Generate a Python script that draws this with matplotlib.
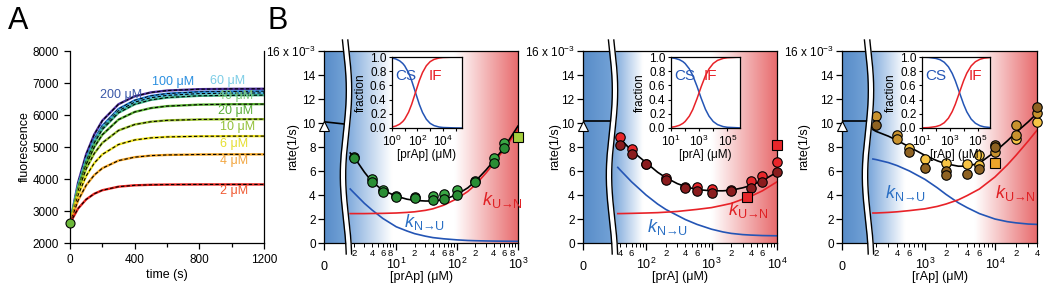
import numpy as np
import matplotlib.pyplot as plt
from matplotlib.ticker import FixedLocator, FuncFormatter, NullLocator

plt.rcParams['font.family'] = ['Liberation Sans', 'DejaVu Sans']
plt.rcParams['mathtext.fontset'] = 'custom'
plt.rcParams['mathtext.rm'] = 'Liberation Sans'
plt.rcParams['mathtext.it'] = 'Liberation Sans:italic'
plt.rcParams['axes.linewidth'] = 0.9

# ---------------- dados do painel A (fluorescencia x tempo) ----------------
t_A = [0, 50, 100, 150, 200, 300, 400, 500, 600, 800, 1000, 1200]
f_200 = [2620, 3888, 4775, 5392, 5825, 6337, 6584, 6705, 6764, 6807, 6817, 6820]
f_100 = [2620, 3794, 4631, 5232, 5661, 6188, 6456, 6595, 6666, 6721, 6735, 6739]
f_60 = [2620, 3764, 4586, 5176, 5603, 6128, 6401, 6540, 6612, 6669, 6684, 6689]
f_40 = [2620, 3744, 4552, 5132, 5552, 6068, 6334, 6472, 6544, 6600, 6614, 6619]
f_20 = [2620, 3691, 4454, 4997, 5384, 5856, 6095, 6216, 6277, 6324, 6336, 6339]
f_10 = [2620, 3624, 4320, 4798, 5129, 5517, 5702, 5790, 5832, 5861, 5868, 5870]
f_6 = [2620, 3499, 4094, 4497, 4769, 5078, 5220, 5285, 5315, 5335, 5339, 5340]
f_4 = [2620, 3329, 3805, 4123, 4336, 4575, 4682, 4731, 4752, 4766, 4770, 4770]
f_2 = [2620, 3077, 3362, 3539, 3649, 3760, 3803, 3819, 3826, 3830, 3830, 3830]
conc_A = ['200', '100', '60', '40', '20', '10', '6', '4', '2']
cores_linha = ['#4b2d9b', '#1f78d1', '#4fb8e0', '#3fb58a', '#58b030',
               '#9cc32a', '#efe31f', '#f5a623', '#e8231e']
cores_rotulo = ['#3a58a8', '#2a8fe0', '#7ccde6', '#7fc87a', '#5aae3a',
                '#94c13a', '#e6df30', '#f2a640', '#f05a32']
rotulo_t = [186, 507, 866, 915, 915, 928, 928, 928, 928]
rotulo_f = [6616, 7022, 7053, 6584, 6116, 5616, 5084, 4553, 3616]

# ---------------- painel B1: prAp ----------------
x_prap = [2, 4, 6, 10, 20, 40, 60, 100, 200, 400, 600]
k_prap_a = [7.2, 5.3, 4.4, 3.9, 3.8, 3.95, 4.05, 4.4, 5.2, 7.1, 8.35]
k_prap_b = [7.1, 5.1, 4.25, 3.85, 3.75, 3.6, 3.7, 4.0, 5.05, 6.65, 7.9]
xq_prap, kq_prap = [1000], [8.8]
xfit_prap = [1.75, 2, 3, 4, 6, 10, 15, 20, 30, 40, 60, 100, 150, 200, 300, 400, 600, 1000]
fit_prap = [7.5, 7.2, 5.9, 5.1, 4.4, 3.9, 3.65, 3.55, 3.5, 3.5, 3.6, 4.05, 4.6, 5.15, 6.1, 6.85, 8.0, 9.75]
kun_prap = [2.45, 2.45, 2.45, 2.46, 2.47, 2.5, 2.55, 2.6, 2.72, 2.85, 3.15, 3.7, 4.3, 4.85, 5.85, 6.65, 7.85, 9.5]
knu_prap = [4.5, 4.2, 3.3, 2.75, 2.05, 1.35, 1.0, 0.78, 0.57, 0.45, 0.35, 0.26, 0.21, 0.19, 0.17, 0.16, 0.15, 0.14]
zero_prap = [10.1, 9.9]

# ---------------- painel B2: prA ----------------
x_pra = [40, 60, 100, 200, 400, 600, 1000, 2000, 4000, 6000, 10000]
k_pra_a = [8.8, 7.8, 6.6, 5.4, 4.7, 4.65, 4.5, 4.45, 5.15, 5.6, 6.75]
k_pra_b = [8.15, 7.45, 6.55, 5.25, 4.6, 4.35, 4.2, 4.3, 4.6, 5.05, 5.9]
xq_pra, kq_pra = [3500, 10000], [3.85, 8.15]
xfit_pra = [37, 40, 60, 100, 150, 200, 300, 400, 600, 1000, 1500, 2000, 3000, 4000, 6000, 10000]
fit_pra = [8.95, 8.7, 7.7, 6.7, 5.9, 5.45, 4.95, 4.7, 4.45, 4.35, 4.35, 4.4, 4.6, 4.8, 5.2, 5.9]
kun_pra = [2.45, 2.45, 2.47, 2.5, 2.53, 2.57, 2.63, 2.7, 2.8, 2.95, 3.15, 3.3, 3.65, 3.9, 4.35, 5.1]
knu_pra = [6.3, 6.1, 5.1, 4.0, 3.25, 2.8, 2.3, 1.95, 1.55, 1.15, 0.92, 0.8, 0.7, 0.66, 0.62, 0.6]
zero_pra = [10.2, 10.2]

# ---------------- painel B3: rAp ----------------
x_rap_a = [600, 1000, 2000, 4000, 6000, 6000, 20000, 40000]
k_rap_a = [7.9, 7.0, 6.7, 6.6, 7.35, 6.5, 8.7, 10.1]
x_rap_b = [200, 400, 400, 10000, 20000, 20000, 40000]
k_rap_b = [10.6, 9.0, 8.7, 7.6, 9.8, 9.0, 10.8]
x_rap_c = [200, 600, 1000, 2000, 2000, 4000, 6000, 10000, 10000, 40000]
k_rap_c = [9.8, 7.6, 6.25, 6.0, 5.7, 5.75, 6.2, 8.2, 8.0, 11.3]
xq_rap, kq_rap = [10000], [6.65]
xfit_rap = [180, 200, 300, 400, 600, 1000, 1500, 2000, 3000, 4000, 6000, 10000, 15000, 20000, 30000, 40000]
fit_rap = [9.45, 9.3, 8.9, 8.55, 8.0, 7.3, 6.85, 6.6, 6.4, 6.4, 6.65, 7.6, 8.5, 9.2, 10.1, 10.8]
kun_rap = [2.5, 2.5, 2.55, 2.6, 2.7, 2.85, 3.05, 3.25, 3.6, 3.95, 4.5, 5.5, 6.5, 7.3, 8.5, 9.4]
knu_rap = [7.0, 6.95, 6.7, 6.45, 6.0, 5.3, 4.6, 4.05, 3.35, 2.95, 2.45, 2.0, 1.78, 1.68, 1.58, 1.55]
zero_rap = [10.2, 10.2]
tri_y = 9.75

# ---------------- insets (fracao CS / IF) ----------------
xin_prap = [1, 2, 4, 7, 10, 20, 35, 70, 140, 250, 500, 1000, 2000, 5000, 1e4, 1e5, 3e5]
if_prap = [.014, .028, .054, .091, .125, .222, .333, .5, .667, .781, .877, .935, .966, .986, .993, .999, 1.0]
cs_prap = [.986, .972, .946, .909, .875, .778, .667, .5, .333, .219, .123, .065, .034, .014, .007, .001, 0.0]
xin_pra = [10, 20, 40, 70, 100, 200, 350, 700, 1000, 1400, 2800, 5000, 1e4, 2e4, 5e4, 1e5, 1e6]
if_pra = [.01, .02, .038, .065, .091, .167, .259, .412, .5, .583, .737, .833, .909, .952, .98, .99, .999]
cs_pra = [.99, .98, .962, .935, .909, .833, .741, .588, .5, .417, .263, .167, .091, .048, .02, .01, .001]
xin_rap = [10, 30, 100, 200, 400, 800, 1500, 2500, 5000, 1e4, 1.7e4, 3.5e4, 7e4, 1.5e5, 3e5, 1e6]
if_rap = [.002, .006, .02, .038, .074, .138, .231, .333, .5, .667, .773, .875, .933, .968, .984, .995]
cs_rap = [.998, .994, .98, .962, .926, .862, .769, .667, .5, .333, .227, .125, .067, .032, .016, .005]

W, H = 1050, 291
fig = plt.figure(figsize=(W / 100, H / 100), dpi=100)


def caixa(l, t, r, b):
    # retangulo em pixels -> fracao da figura
    return [l / W, 1 - b / H, (r - l) / W, (b - t) / H]


# ================= PAINEL A =================
axA = fig.add_axes(caixa(70, 51, 264, 243))
for f, c in zip([f_200, f_100, f_60, f_40, f_20, f_10, f_6, f_4, f_2], cores_linha):
    axA.plot(t_A, f, color=c, lw=1.7)
    axA.plot(t_A, f, color='black', lw=0.8, dashes=(3, 2))
axA.plot([0], [2620], 'o', mfc='#6cb83a', mec='black', ms=6.5, mew=0.8,
         clip_on=False, zorder=5)
for c, tx, fy, cor in zip(conc_A, rotulo_t, rotulo_f, cores_rotulo):
    axA.text(tx, fy, c + ' μM', color=cor, fontsize=9, ha='left', va='center')
axA.set_xlim(0, 1200)
axA.set_ylim(2000, 8000)
axA.set_xticks([0, 400, 800, 1200])
axA.set_xticks([200, 600, 1000], minor=True)
axA.set_yticks(range(2000, 8001, 1000))
axA.spines['top'].set_visible(False)
axA.tick_params(which='both', direction='out', labelsize=8.5, width=0.9)
axA.tick_params(which='major', length=4, pad=4)
axA.tick_params(which='minor', length=3)
axA.set_xlabel('time (s)', fontsize=9)
axA.set_ylabel('fluorescence', fontsize=9)
axA.xaxis.set_label_coords(167 / W, 1 - 269 / H, transform=fig.transFigure)
axA.yaxis.set_label_coords(31 / W, 1 - 147 / H, transform=fig.transFigure)
fig.text(8 / W, 1 - 21 / H, 'A', fontsize=22, va='center', ha='left')
fig.text(268 / W, 1 - 21 / H, 'B', fontsize=22, va='center', ha='left')


# ================= PAINEIS B =================
def fundo(l, brk, r, branco, vermelho):
    px = np.linspace(l, r, 500)
    pos = [l, brk - 3, brk + 4, branco, vermelho, r]
    cores = np.array([[88, 140, 200], [112, 160, 213], [135, 175, 222],
                      [255, 255, 255], [255, 255, 255], [232, 108, 110]]) / 255
    img = np.stack([np.interp(px, pos, cores[:, k]) for k in range(3)], axis=-1)
    bg = fig.add_axes(caixa(l, 51, r, 243))
    bg.imshow(img[None, :, :], aspect='auto', extent=[0, 1, 0, 1])
    bg.axis('off')


def rotulo_menor(mostrar):
    def fmt(v, pos):
        m = int(round(v / 10 ** np.floor(np.log10(v) + 1e-9)))
        return str(m) if m in mostrar else ''
    return fmt


def painel_taxa(l, brk, r, xlim, branco, vermelho, zero_fit, xfit, fit, kun, knu,
                pontos, quadrados, nome, mostrar, rot_ylabel, pos_kun, pos_knu):
    fundo(l, brk, r, branco, vermelho)

    # trecho linear com o zero
    ax0 = fig.add_axes(caixa(l, 51, brk, 243), facecolor='none')
    ax0.set_xlim(0, 1)
    ax0.set_ylim(0, 16)
    ax0.spines['right'].set_visible(False)
    ax0.plot([0, 1], zero_fit, color='black', lw=1.2)
    ax0.plot([0], [tri_y], marker='^', mfc='white', mec='black', ms=7.5, mew=0.8,
             clip_on=False, zorder=5)
    ax0.set_xticks([0])
    ax0.set_xticklabels(['0'])
    ax0.set_yticks(range(0, 17, 2))
    ax0.set_yticklabels([str(v) for v in range(0, 15, 2)] + ['16 x 10$^{-3}$'])
    ax0.tick_params(axis='x', length=5, width=0.9, pad=8, labelsize=9)
    ax0.tick_params(axis='y', length=4, width=0.9, pad=2, labelsize=8.5)
    ax0.set_ylabel('rate(1/s)', fontsize=9)
    ax0.yaxis.set_label_coords(rot_ylabel / W, 1 - 147 / H, transform=fig.transFigure)

    # trecho logaritmico
    ax = fig.add_axes(caixa(brk, 51, r, 243), facecolor='none')
    ax.set_xscale('log')
    ax.set_xlim(*xlim)
    ax.set_ylim(0, 16)
    ax.spines['left'].set_visible(False)
    ax.tick_params(axis='y', left=False, labelleft=False)
    dec = [10.0 ** k for k in range(-1, 7) if xlim[0] <= 10.0 ** k <= xlim[1] * 1.001]
    ax.xaxis.set_major_locator(FixedLocator(dec))
    ax.xaxis.set_major_formatter(FuncFormatter(
        lambda v, p: r'$10^{%d}$' % round(np.log10(v))))
    menores = [m * 10.0 ** k for k in range(-1, 6) for m in range(2, 10)
               if xlim[0] <= m * 10.0 ** k <= xlim[1] * 1.001]
    ax.xaxis.set_minor_locator(FixedLocator(menores))
    ax.xaxis.set_minor_formatter(FuncFormatter(rotulo_menor(mostrar)))
    ax.tick_params(axis='x', which='major', length=5, width=0.9, pad=5, labelsize=9)
    ax.tick_params(axis='x', which='minor', length=3, width=0.7, pad=1.5, labelsize=6.8)
    ax.set_xlabel(nome + ' (μM)', fontsize=9)
    ax.xaxis.set_label_coords((l + r) / 2 / W, 1 - 271 / H, transform=fig.transFigure)

    ax.plot(xfit, knu, color='#2455b5', lw=1.2)
    ax.plot(xfit, kun, color='#e82228', lw=1.2)
    ax.plot(xfit, fit, color='black', lw=1.2)
    for xs, ys, cor in pontos:
        ax.plot(xs, ys, 'o', mfc=cor, mec='black', ms=6.8, mew=0.8,
                clip_on=False, zorder=4)
    xq, yq, corq = quadrados
    ax.plot(xq, yq, 's', mfc=corq, mec='black', ms=6.5, mew=0.8,
            clip_on=False, zorder=4)
    ax.text(pos_kun[0], pos_kun[1], r'$k_{\mathrm{U→N}}$', color='#e02024',
            fontsize=13, ha='left', va='center')
    ax.text(pos_knu[0], pos_knu[1], r'$k_{\mathrm{N→U}}$', color='#2a6fc4',
            fontsize=13, ha='left', va='center')
    return ax


def inset(l, r, xlim, xin, cs, iff, nome, rot_dec, pos_cs, pos_if):
    ai = fig.add_axes(caixa(l, 57, r, 128))
    ai.set_facecolor('white')
    ai.set_xscale('log')
    ai.set_xlim(*xlim)
    ai.set_ylim(0, 1)
    ai.plot(xin, cs, color='#2455b5', lw=1.1)
    ai.plot(xin, iff, color='#e82228', lw=1.1)
    dec = [10.0 ** k for k in range(0, 7) if xlim[0] <= 10.0 ** k <= xlim[1]]
    ai.xaxis.set_major_locator(FixedLocator(dec))
    ai.xaxis.set_major_formatter(FuncFormatter(
        lambda v, p: r'$10^{%d}$' % round(np.log10(v)) if round(np.log10(v)) in rot_dec else ''))
    ai.xaxis.set_minor_locator(NullLocator())
    ai.set_yticks([0, 0.2, 0.4, 0.6, 0.8, 1.0])
    ai.set_yticklabels(['0.0', '0.2', '0.4', '0.6', '0.8', '1.0'])
    ai.tick_params(length=2.5, width=0.8, pad=1.5, labelsize=8.5)
    ai.set_ylabel('fraction', fontsize=8.5, labelpad=2)
    ai.set_xlabel(nome + ' (μM)', fontsize=8.5, labelpad=0.5)
    ai.text(pos_cs, 0.73, 'CS', color='#2455b5', fontsize=11, transform=ai.transAxes,
            ha='left', va='center')
    ai.text(pos_if, 0.73, 'IF', color='#e82228', fontsize=11, transform=ai.transAxes,
            ha='left', va='center')


painel_taxa(324, 346, 518, (10 ** 0.174, 1000), 392, 455, zero_prap,
            xfit_prap, fit_prap, kun_prap, knu_prap,
            [(x_prap, k_prap_a, '#3aa845'), (x_prap, k_prap_b, '#2a8e35')],
            (xq_prap, kq_prap, '#a6cf3e'), '[prAp]', [2, 4, 6, 8], 299,
            (254, 3.6), (13.5, 1.77))
inset(392, 462, (1, 10 ** 5.5), xin_prap, cs_prap, if_prap, '[prAp]', [0, 2, 4], 0.05, 0.52)

painel_taxa(583, 612, 777, (10 ** 1.48, 10000), 643, 712, zero_pra,
            xfit_pra, fit_pra, kun_pra, knu_pra,
            [(x_pra, k_pra_a, '#e8262a'), (x_pra, k_pra_b, '#8a1c1e')],
            (xq_pra, kq_pra, '#e8262a'), '[prA]', [2, 4, 6], 561,
            (1780, 2.77), (102, 1.35))
inset(671, 740, (10, 10 ** 5.9), xin_pra, cs_pra, if_pra, '[prA]', [1, 3, 5], 0.04, 0.47)

painel_taxa(842, 868, 1037, (10 ** 2.185, 40000), 905, 975, zero_rap,
            xfit_rap, fit_rap, kun_rap, knu_rap,
            [(x_rap_a, k_rap_a, '#f6c445'), (x_rap_b, k_rap_b, '#c8922e'),
             (x_rap_c, k_rap_c, '#8e6222')],
            (xq_rap, kq_rap, '#eea52a'), '[rAp]', [2, 4, 6], 810,
            (10000, 4.2), (267, 4.2))
inset(922, 990, (10, 10 ** 5.9), xin_rap, cs_rap, if_rap, '[rAp]', [1, 3, 5], 0.05, 0.68)

# quebra do eixo (linha dupla ondulada)
ov = fig.add_axes([0, 0, 1, 1], facecolor='none')
ov.set_xlim(0, W)
ov.set_ylim(H, 0)
ov.axis('off')
for brk in [346, 612, 868]:
    yy = np.linspace(40, 254, 150)
    xx = brk + 3.0 * np.sin(2 * np.pi * (yy - 48) / 170)
    ov.fill_betweenx(yy, xx - 2.7, xx + 2.7, color='white', lw=0)
    ov.plot(xx - 2.7, yy, color='black', lw=1.0)
    ov.plot(xx + 2.7, yy, color='black', lw=1.0)

fig.savefig('out.png', dpi=100)
